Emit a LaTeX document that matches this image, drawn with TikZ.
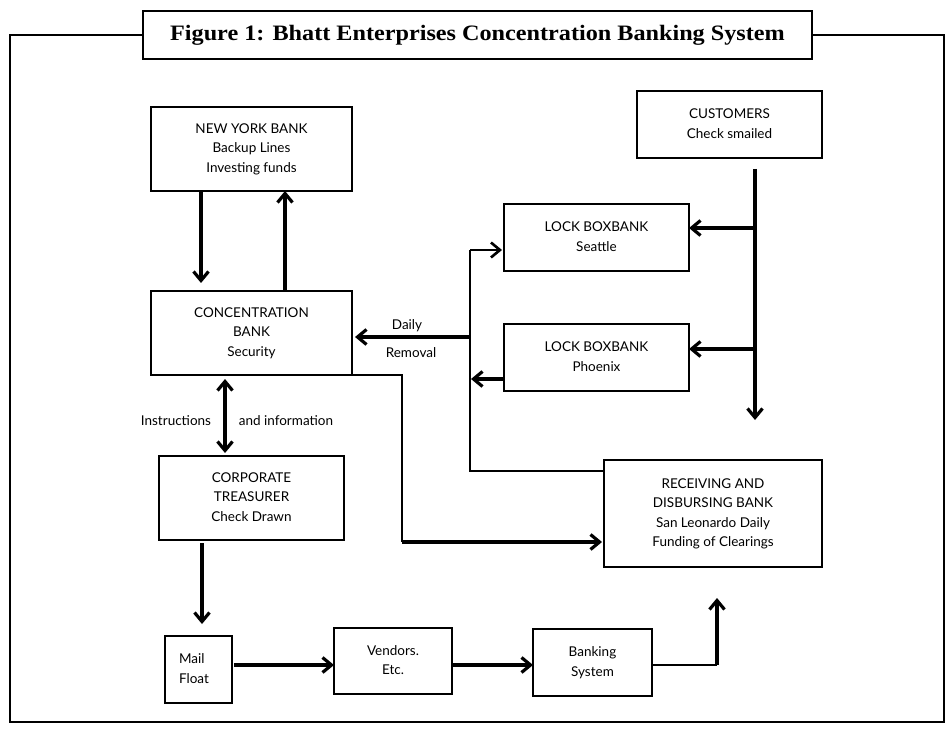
\documentclass[tikz,border=0pt]{standalone}
\usepackage{fontspec}
\setmainfont{Lato}
\newfontfamily\titlefont{Liberation Serif}
\usetikzlibrary{arrows.meta,calc}
\newcommand\bxt[1]{\raisebox{6pt}{\begin{tabular}{@{}c@{}}#1\end{tabular}}}
\newcommand\bxl[1]{\hspace*{-9pt}\raisebox{6pt}{\begin{tabular}{@{}l@{}}#1\end{tabular}}}
\begin{document}
\begin{tikzpicture}[x=1pt,y=-1pt,
  box/.style={draw, line width=1.4pt, inner sep=0pt, outer sep=0pt, align=center,
    font=\fontsize{13.5}{19.5}\selectfont},
  lbl/.style={inner sep=0pt, text height=10pt, text depth=3pt,
    font=\fontsize{13.5}{19.5}\selectfont},
  tip/.style={-{Straight Barb[length=9pt,width=15pt]}},
  thk/.style={line width=3.2pt, tip},
  thn/.style={line width=1.3pt},
  frm/.style={line width=2.6pt}]
\useasboundingbox (0,0) rectangle (946,730);

% frame and title
\coordinate (f1) at (10,35);
\coordinate (f2) at (10,722);
\coordinate (f3) at (944,722);
\coordinate (f4) at (944,35);
\node[draw, frm, inner sep=0pt, minimum width=669pt, minimum height=48pt, fill=white]
  (title) at (477.5,35)
  {\raisebox{3pt}{\scalebox{1.1}[1]{\titlefont\bfseries\fontsize{22}{24}\selectfont Figure 1: Bhatt Enterprises Concentration Banking System}}};
\draw[frm] (title.west) -- (f1) -- (f2) -- (f3) -- (f4) -- (title.east);

% boxes
\node[box, minimum width=201pt, minimum height=84pt] (ny) at (251.5,149)
  {\bxt{NEW YORK BANK\\Backup Lines\\Investing funds}};
\node[box, minimum width=201pt, minimum height=84pt] (conc) at (251.5,333)
  {\bxt{CONCENTRATION\\BANK\\Security}};
\node[box, minimum width=185pt, minimum height=84pt] (treas) at (251.5,498)
  {\bxt{CORPORATE\\TREASURER\\Check Drawn}};
\node[box, minimum width=67pt, minimum height=67pt] (mail) at (198.5,669.5)
  {\bxl{Mail\\Float}};
\node[box, minimum width=118pt, minimum height=66pt] (vend) at (393,661)
  {\bxt{Vendors.\\Etc.}};
\node[box, minimum width=119pt, minimum height=67pt] (bank) at (592.5,662.5)
  {\bxt{Banking\\System}};
\node[box, minimum width=185pt, minimum height=67pt] (cust) at (729.5,124.5)
  {\bxt{CUSTOMERS\\Check smailed}};
\node[box, minimum width=185pt, minimum height=67pt] (sea) at (596.5,237.5)
  {\bxt{LOCK BOXBANK\\Seattle}};
\node[box, minimum width=185pt, minimum height=67pt] (phx) at (596.5,357.5)
  {\bxt{LOCK BOXBANK\\Phoenix}};
\node[box, minimum width=218pt, minimum height=107pt] (recv) at (713,513.5)
  {\bxt{RECEIVING AND\\DISBURSING BANK\\San Leonardo Daily\\Funding of Clearings}};

% labels
\node[lbl] (daily) at (407,326) {Daily};
\node[lbl] (removal) at (411,354) {Removal};
\node[lbl] (instr) at (176,422) {Instructions};
\node[lbl] (info) at (286,422) {and information};

% helper coordinates
\coordinate (cb) at (755,420);
\coordinate (vt) at (470,250);
\coordinate (vb) at (470,471);
\coordinate (cr) at (402,542);
\coordinate (bk) at (717,665);

% NY <-> concentration
\draw[thk, shorten >=8pt] ([xshift=50pt]ny.south west) -- ([xshift=50pt]conc.north west);
\draw[thk] ([xshift=134pt]conc.north west) -- ([xshift=134pt]ny.south west);

% instructions and information
\draw[line width=3.2pt, {Straight Barb[length=9pt,width=15pt]}-{Straight Barb[length=9pt,width=15pt]},
  shorten <=4pt, shorten >=3pt]
  ([xshift=74pt]conc.south west) -- ([xshift=66pt]treas.north west);

% treasurer -> mail -> vendors -> banking -> receiving
\draw[thk, shorten <=3pt, shorten >=12pt] ([xshift=43pt]treas.south west) -- ([xshift=37pt]mail.north west);
\draw[thk, shorten <=2pt] ([yshift=4.5pt]mail.east) -- ([yshift=4.5pt]mail.east -| vend.west);
\draw[thk] ([yshift=-4pt]vend.east) -- ([yshift=-4pt]vend.east -| bank.west);
\draw[thn] ([yshift=-2.5pt]bank.east) -- (bk);
\draw[thk, shorten >=31pt] (bk) -- (bk |- recv.south);

% customers
\draw[thk, shorten <=11pt] (cust.south -| cb) -- (cb);
\draw[thk] ([yshift=9.5pt]sea.east -| cb) -- ([yshift=9.5pt]sea.east);
\draw[thk] ([yshift=8.5pt]phx.east -| cb) -- ([yshift=8.5pt]phx.east);

% lock box network
\draw[thk, shorten >=1pt] ([yshift=-21.5pt]phx.west) -- ([yshift=-21.5pt]phx.west -| vt);
\draw[thn] (recv.west |- vb) -- (vb) -- (vt);
\draw[thn, -{Straight Barb[length=9pt,width=15pt,line width=2.6pt]}, shorten >=2pt]
  (vt) -- (vt -| sea.west);
\draw[thk, shorten >=3pt] ([yshift=-4pt]conc.east -| vt) -- ([yshift=-4pt]conc.east);

% concentration -> receiving
\draw[thn] (conc.south east) -- (conc.south east -| cr) -- (cr);
\draw[thk, shorten >=2pt] (cr) -- (cr -| recv.west);
\end{tikzpicture}
\end{document}
